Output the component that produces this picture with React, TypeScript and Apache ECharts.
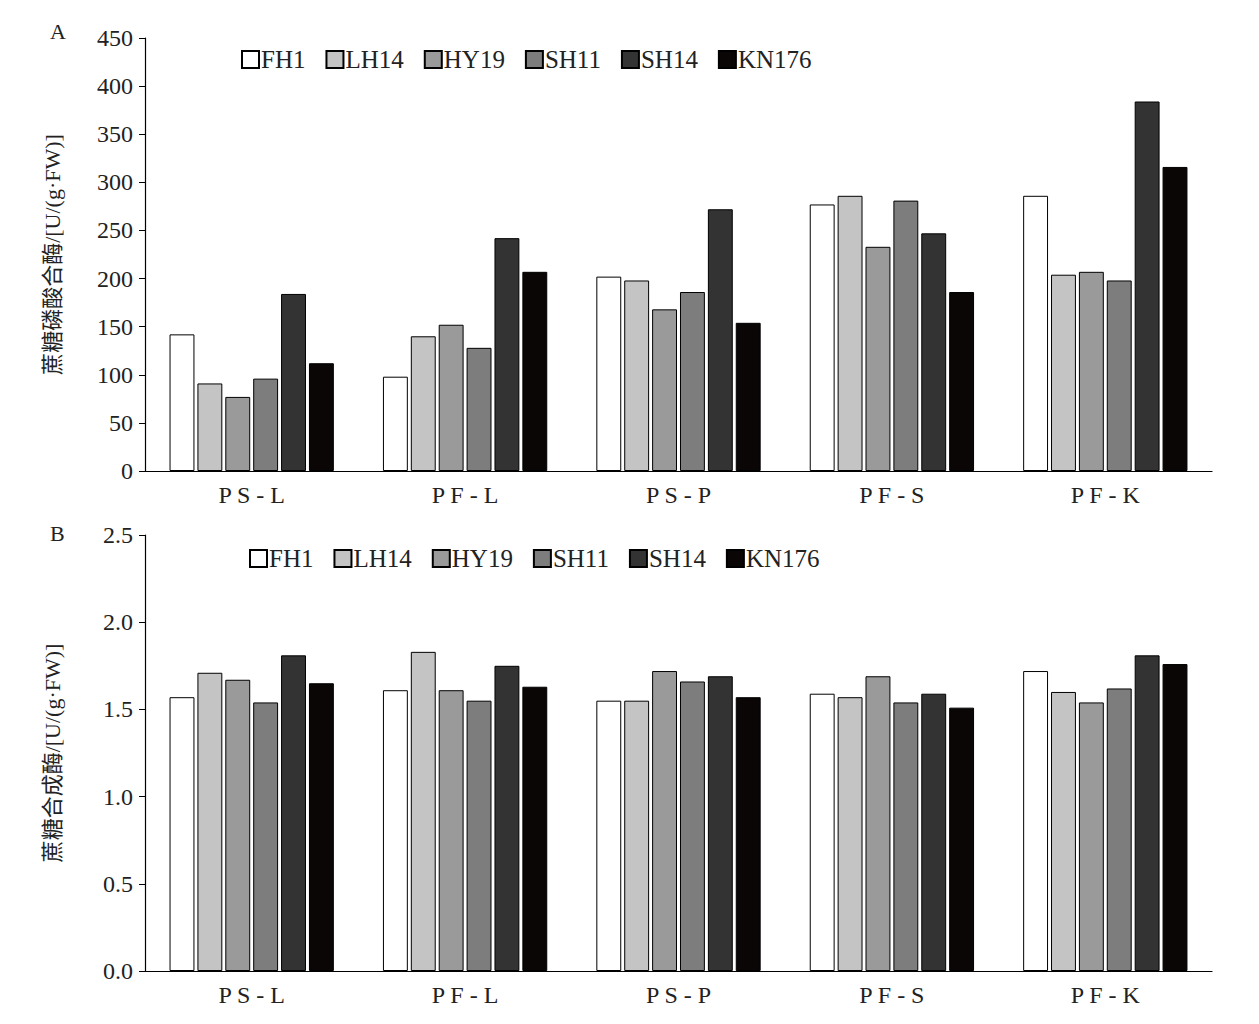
import { useEffect, useRef } from "react";
import * as echarts from "echarts";

const categories = ["PS-L", "PF-L", "PS-P", "PF-S", "PF-K"];
const varieties = ["FH1", "LH14", "HY19", "SH11", "SH14", "KN176"];
const colors = ["#ffffff", "#c4c4c4", "#9a9a9a", "#7d7d7d", "#333333", "#0b0606"];

// 蔗糖磷酸合酶, by variety across categories
const spsFH1 = [142, 98, 202, 277, 286];
const spsLH14 = [91, 140, 198, 286, 204];
const spsHY19 = [77, 152, 168, 233, 207];
const spsSH11 = [96, 128, 186, 281, 198];
const spsSH14 = [184, 242, 272, 247, 384];
const spsKN176 = [112, 207, 154, 186, 316];

// 蔗糖合成酶
const ssFH1 = [1.57, 1.61, 1.55, 1.59, 1.72];
const ssLH14 = [1.71, 1.83, 1.55, 1.57, 1.6];
const ssHY19 = [1.67, 1.61, 1.72, 1.69, 1.54];
const ssSH11 = [1.54, 1.55, 1.66, 1.54, 1.62];
const ssSH14 = [1.81, 1.75, 1.69, 1.59, 1.81];
const ssKN176 = [1.65, 1.63, 1.57, 1.51, 1.76];

const spsData = [spsFH1, spsLH14, spsHY19, spsSH11, spsSH14, spsKN176];
const ssData = [ssFH1, ssLH14, ssHY19, ssSH11, ssSH14, ssKN176];

const font = "'Liberation Serif', 'Noto Sans CJK SC', serif";

function App() {
  const chartRef = useRef<HTMLDivElement>(null);

  useEffect(() => {
    if (!chartRef.current) return;
    const chart = echarts.init(chartRef.current, undefined, { renderer: "svg" });

    const xAxis = (gridIndex: number) => ({
      type: "category",
      gridIndex,
      data: categories,
      axisLine: { lineStyle: { color: "#000", width: 1.2 } },
      axisTick: { lineStyle: { color: "#000" }, length: 6 },
      axisLabel: {
        color: "#222",
        fontSize: 24,
        fontFamily: font,
        margin: 12,
        formatter: (v: string) => v.split("").join(" "),
      },
    });
    const yAxis = (gridIndex: number, max: number, interval: number, name: string, digits: number) => ({
      type: "value",
      gridIndex,
      min: 0,
      max,
      interval,
      name,
      nameLocation: "middle",
      nameGap: 82,
      nameTextStyle: { color: "#222", fontSize: 22, fontFamily: font },
      splitLine: { show: false },
      axisLine: { show: true, lineStyle: { color: "#000", width: 1.2 } },
      axisTick: { show: true, lineStyle: { color: "#000" }, length: 6 },
      axisLabel: {
        color: "#222",
        fontSize: 24,
        fontFamily: font,
        margin: 12,
        formatter: (v: number) => v.toFixed(digits),
      },
    });
    const bars = (data: number[][], idx: number) =>
      data.map((d, i) => ({
        name: varieties[i],
        type: "bar",
        xAxisIndex: idx,
        yAxisIndex: idx,
        data: d,
        barGap: "12%",
        barCategoryGap: "23%",
        itemStyle: { color: colors[i], borderColor: "#000", borderWidth: 1 },
      }));
    const legend = (top: number, left: number) => ({
      top,
      left,
      data: varieties,
      itemWidth: 17,
      itemHeight: 17,
      itemGap: 20,
      textStyle: { color: "#222", fontSize: 25, fontFamily: font, padding: [0, 0, 0, -3] },
      icon: "rect",
    });

    chart.setOption({
      animation: false,
      grid: [
        { left: 145, top: 38, width: 1067, height: 433 },
        { left: 145, top: 535, width: 1067, height: 436 },
      ],
      legend: [legend(42, 236), legend(541, 244)],
      xAxis: [xAxis(0), xAxis(1)],
      yAxis: [
        yAxis(0, 450, 50, "蔗糖磷酸合酶/[U/(g·FW)]", 0),
        yAxis(1, 2.5, 0.5, "蔗糖合成酶/[U/(g·FW)]", 1),
      ],
      series: [...bars(spsData, 0), ...bars(ssData, 1)],
      graphic: [
        { type: "text", left: 50, top: 20, style: { text: "A", fontSize: 22, fontFamily: font, fill: "#222" } },
        { type: "text", left: 50, top: 522, style: { text: "B", fontSize: 22, fontFamily: font, fill: "#222" } },
      ],
    });
    return () => chart.dispose();
  }, []);

  return (
    <div
      ref={chartRef}
      style={{ position: "absolute", left: 0, top: 0, width: 1259, height: 1024, background: "#fff" }}
    />
  );
}

export default App;
